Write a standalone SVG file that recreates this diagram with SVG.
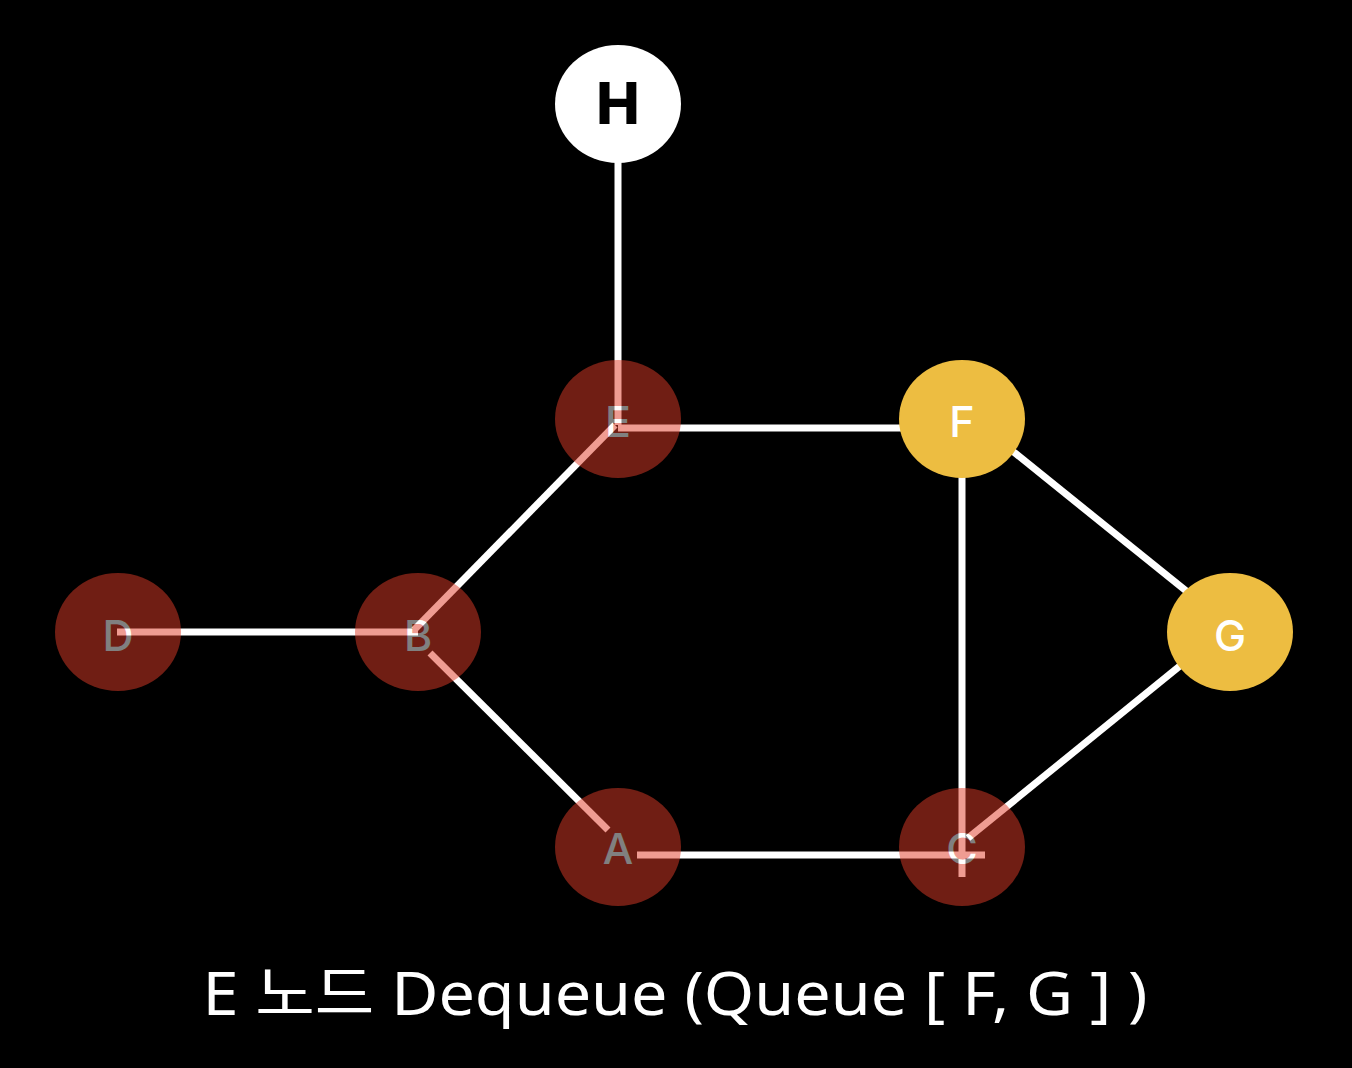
<svg xmlns="http://www.w3.org/2000/svg" width="1352" height="1068" viewBox="0 0 1352 1068">
<style>
.edge{stroke:#ffffff;stroke-width:7;fill:none}
.lbl{font-family:Inter,"Noto Sans","Liberation Sans",sans-serif;font-size:43px;font-weight:500;text-anchor:middle;fill:#ffffff}
.visited{opacity:0.5}
.visited ellipse{fill:#e03c28}
.queued ellipse{fill:#edbd41}
</style>
<rect x="0" y="0" width="1352" height="1068" fill="#000000"/>
<g id="connectors">
<line class="edge" x1="618" y1="160" x2="618" y2="425"/>
<line class="edge" x1="618" y1="428" x2="905" y2="428"/>
<line class="edge" x1="615" y1="425" x2="414" y2="630"/>
<line class="edge" x1="117" y1="632" x2="418" y2="632"/>
<line class="edge" x1="430" y1="653" x2="608" y2="830"/>
<line class="edge" x1="637" y1="855" x2="985" y2="855"/>
<line class="edge" x1="962" y1="475" x2="962" y2="877"/>
<line class="edge" x1="968" y1="838" x2="1186" y2="661"/>
<line class="edge" x1="1010" y1="449" x2="1190" y2="594"/>
</g>
<g id="node-H">
<ellipse cx="618" cy="104" rx="63" ry="59" fill="#ffffff"/>
<text x="618" y="124" style="font-family:Inter,'Noto Sans','Liberation Sans',sans-serif;font-size:58px;font-weight:800;text-anchor:middle" fill="#000000">H</text>
</g>
<g id="node-E" class="visited">
<ellipse cx="618" cy="419" rx="63" ry="59"/>
<text class="lbl" x="618" y="437">E</text>
</g>
<g id="node-F" class="queued">
<ellipse cx="962" cy="419" rx="63" ry="59"/>
<text class="lbl" x="962" y="437">F</text>
</g>
<g id="node-D" class="visited">
<ellipse cx="118" cy="632" rx="63" ry="59"/>
<text class="lbl" x="118" y="651">D</text>
</g>
<g id="node-B" class="visited">
<ellipse cx="418" cy="632" rx="63" ry="59"/>
<text class="lbl" x="418" y="651">B</text>
</g>
<g id="node-G" class="queued">
<ellipse cx="1230" cy="632" rx="63" ry="59"/>
<text class="lbl" x="1230" y="651">G</text>
</g>
<g id="node-A" class="visited">
<ellipse cx="618" cy="847" rx="63" ry="59"/>
<text class="lbl" x="618" y="864">A</text>
</g>
<g id="node-C" class="visited">
<ellipse cx="962" cy="847" rx="63" ry="59"/>
<text class="lbl" x="962" y="864">C</text>
</g>
<g id="caption">
<text x="675" y="1015" textLength="945" lengthAdjust="spacingAndGlyphs" style="font-family:'Noto Sans','Noto Sans CJK KR',sans-serif;font-size:60px;font-weight:400;text-anchor:middle" fill="#ffffff">E 노드 Dequeue (Queue [ F, G ] )</text>
</g>
</svg>
